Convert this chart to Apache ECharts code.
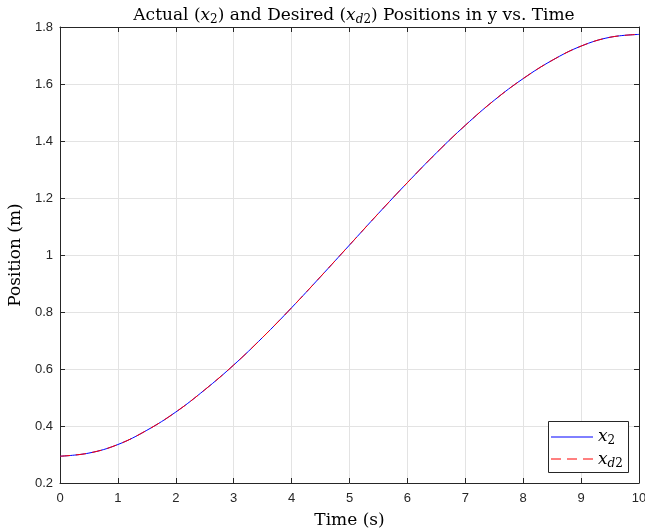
<!DOCTYPE html>
<html>
<head>
<meta charset="utf-8">
<script src="https://cdn.jsdelivr.net/npm/echarts@6/dist/echarts.min.js"></script>
<style>html,body{margin:0;padding:0;background:#fff}#c{width:645px;height:531px}</style>
</head>
<body>
<div id="c"></div>
<script>
const time = [0,0.5,1,1.5,2,2.5,3,3.5,4,4.5,5,5.5,6,6.5,7,7.5,8,8.5,9,9.5,10];
const actualX2 = [0.294,0.305,0.335,0.385,0.449,0.527,0.614,0.711,0.815,0.924,1.035,1.146,1.254,1.358,1.455,1.543,1.619,1.683,1.733,1.764,1.774];
const desiredXd2 = [0.294,0.305,0.335,0.385,0.449,0.527,0.614,0.711,0.815,0.924,1.035,1.146,1.254,1.358,1.455,1.543,1.619,1.683,1.733,1.764,1.774];
const xTicks = [0,1,2,3,4,5,6,7,8,9,10];
const yTicks = [0.2,0.4,0.6,0.8,1,1.2,1.4,1.6,1.8];

const chart = echarts.init(document.getElementById('c'), null, {renderer:'canvas'});
const axisColor = '#262626';
const serif = '"DejaVu Serif","Liberation Serif",serif';
const sans = '"Liberation Sans",Helvetica,Arial,sans-serif';
const mathRich = {
  n:{fontFamily:serif,fontSize:17,color:'#000'},
  i:{fontFamily:serif,fontSize:17,fontStyle:'italic',color:'#000'},
  s:{fontFamily:serif,fontSize:12,color:'#000',padding:[8,0,0,0]},
  si:{fontFamily:serif,fontSize:12,fontStyle:'italic',color:'#000',padding:[8,0,0,0]}
};
const legRich = {
  i:{fontFamily:serif,fontSize:17,fontStyle:'italic',color:'#000'},
  s:{fontFamily:serif,fontSize:12,color:'#000',padding:[9,0,0,0]},
  si:{fontFamily:serif,fontSize:12,fontStyle:'italic',color:'#000',padding:[9,0,0,0]}
};
const commonX = {
  type:'value', min:0, max:10, interval:1,
  axisLine:{show:true,onZero:false,lineStyle:{color:axisColor,width:1}},
  axisTick:{show:true,inside:true,length:5,lineStyle:{color:axisColor}},
  splitLine:{show:false}
};
const commonY = {
  type:'value', min:0.2, max:1.8, interval:0.2,
  axisLine:{show:true,onZero:false,lineStyle:{color:axisColor,width:1}},
  axisTick:{show:true,inside:true,length:5,lineStyle:{color:axisColor}},
  splitLine:{show:false}
};
chart.setOption({
  animation:false,
  backgroundColor:'#fff',
  title:{
    text:'{n|Actual (}{i|x}{s|2}{n|) and Desired (}{i|x}{si|d}{s|2}{n|) Positions in y vs. Time}',
    left:349, textAlign:'center', top:1,
    textStyle:{rich:mathRich,fontFamily:serif,fontSize:17,fontWeight:'normal'}
  },
  grid:{left:60,right:6,top:27,bottom:48,containLabel:false,outerBoundsMode:'none'},
  xAxis:[
    Object.assign({}, commonX, {
      position:'bottom',
      name:'Time (s)', nameLocation:'middle', nameGap:29,
      nameTextStyle:{fontFamily:serif,fontSize:17,color:'#000'},
      axisLabel:{show:true,fontFamily:sans,fontSize:13,color:axisColor,margin:9,
        formatter:function(v){return xTicks.indexOf(v)>=0?String(v):'';}},
      splitLine:{show:true,lineStyle:{color:'#e3e3e3',width:1}}
    }),
    Object.assign({}, commonX, {position:'top', axisLabel:{show:false}})
  ],
  yAxis:[
    Object.assign({}, commonY, {
      position:'left',
      name:'Position (m)', nameLocation:'middle', nameGap:33, nameRotate:90,
      nameTextStyle:{fontFamily:serif,fontSize:17,color:'#000'},
      axisLabel:{show:true,fontFamily:sans,fontSize:13,color:axisColor,margin:7,
        formatter:function(v){const r=Math.round(v*10)/10; return yTicks.indexOf(r)>=0?String(r):'';}},
      splitLine:{show:true,lineStyle:{color:'#e3e3e3',width:1}}
    }),
    Object.assign({}, commonY, {position:'right', axisLabel:{show:false}})
  ],
  graphic:[
    {type:'rect', z:100, shape:{x:548.5,y:421.5,width:80,height:51}, style:{fill:'#fff',stroke:'#262626',lineWidth:1}},
    {type:'line', z:101, shape:{x1:551,y1:437,x2:593,y2:437}, style:{stroke:'#0000ff',lineWidth:1}},
    {type:'line', z:101, shape:{x1:551,y1:459,x2:593,y2:459}, style:{stroke:'#ff0000',lineWidth:1,lineDash:[10,6]}},
    {type:'text', z:101, x:598, y:426, style:{text:'{i|x}{s|2}', rich:legRich}},
    {type:'text', z:101, x:598, y:449, style:{text:'{i|x}{si|d}{s|2}', rich:legRich}}
  ],
  series:[
    {name:'x2', type:'line', xAxisIndex:0, yAxisIndex:0, smooth:0.4, showSymbol:false, symbol:'none',
     data:time.map((t,k)=>[t,actualX2[k]]),
     lineStyle:{color:'#0000ff',width:1}, itemStyle:{color:'#0000ff'}},
    {name:'xd2', type:'line', xAxisIndex:0, yAxisIndex:0, smooth:0.4, showSymbol:false, symbol:'none',
     data:time.map((t,k)=>[t,desiredXd2[k]]),
     lineStyle:{color:'#ff0000',width:1,type:[10,6]}, itemStyle:{color:'#ff0000'}}
  ]
});
</script>
</body>
</html>
